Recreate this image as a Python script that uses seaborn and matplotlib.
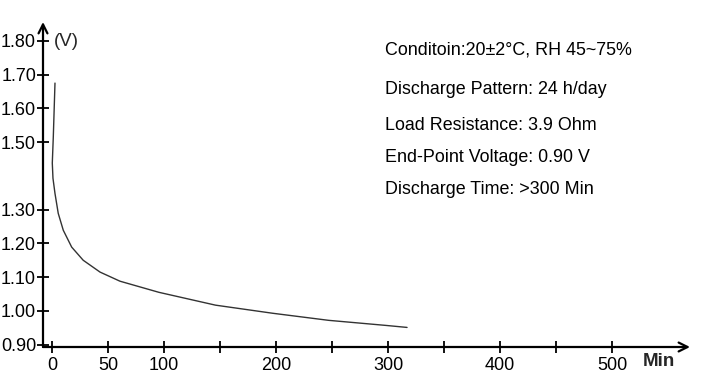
import matplotlib
matplotlib.use("Agg")
import matplotlib.pyplot as plt
import seaborn as sns
import pandas as pd

# ---- data ----
time_min = [2.7, 1.2, 0.3, 0.9, 2.7, 5.6, 10.1, 17.6, 27.9, 42.9, 60.7, 78.6, 95.5,
            146, 197, 247, 298, 317]
voltage = [1.675, 1.516, 1.438, 1.393, 1.348, 1.289, 1.239, 1.189, 1.150, 1.115, 1.088,
           1.071, 1.055, 1.017, 0.993, 0.972, 0.957, 0.951]
y_ticks = [0.90, 1.00, 1.10, 1.20, 1.30, 1.50, 1.60, 1.70, 1.80]
y_tick_labels = ["0.90", "1.00", "1.10", "1.20", "1.30", "1.50", "1.60", "1.70", "1.80"]
x_ticks = [0, 50, 100, 150, 200, 250, 300, 350, 400, 450, 500]
x_tick_labels = ["0", "50", "100", "", "200", "", "300", "", "400", "", "500"]
notes = ["Conditoin:20\u00b12\u00b0C, RH 45~75%",
         "Discharge Pattern: 24 h/day",
         "Load Resistance: 3.9 Ohm",
         "End-Point Voltage: 0.90 V",
         "Discharge Time: >300 Min"]

df = pd.DataFrame({"t": time_min, "v": voltage})

sns.set_style("white")
plt.rcParams["font.family"] = ["Liberation Sans", "DejaVu Sans"]

W, H = 713, 377
fig = plt.figure(figsize=(W / 100, H / 100), dpi=100)
ax = fig.add_axes([43 / W, (H - 347) / H, (690 - 43) / W, (347 - 22) / H])

sns.lineplot(data=df, x="t", y="v", ax=ax, sort=False, estimator=None,
             color="#333333", linewidth=1.0)

ax.set_xlim(-8.0, 569.6)
ax.set_ylim(0.893, 1.856)
for s in ax.spines.values():
    s.set_visible(False)

# axes with arrows
ax.annotate("", xy=(1, 0), xytext=(0, 0), xycoords="axes fraction",
            arrowprops=dict(arrowstyle="->", lw=1.6, color="black", mutation_scale=16,
                            shrinkA=0, shrinkB=0))
ax.annotate("", xy=(0, 1), xytext=(0, 0), xycoords="axes fraction",
            arrowprops=dict(arrowstyle="->", lw=1.6, color="black", mutation_scale=16,
                            shrinkA=0, shrinkB=0))

ax.set_yticks(y_ticks)
ax.set_yticklabels(y_tick_labels)
ax.set_xticks(x_ticks)
ax.set_xticklabels(x_tick_labels)
ax.tick_params(axis="both", direction="inout", length=8, width=1.3, colors="black",
               labelsize=13, pad=1)
ax.tick_params(axis="x", bottom=True, pad=3)
ax.tick_params(axis="y", left=True)
ax.set_xlabel("")
ax.set_ylabel("")
ax.grid(False)

fig.text(54 / W, 1 - 41 / H, "(V)", fontsize=13.5, va="center", ha="left")
fig.text(643 / W, 1 - 362 / H, "Min", fontsize=13.5, fontweight="bold", va="center", ha="left")

ys = [50, 90, 125, 157, 190]
for t, y in zip(notes, ys):
    fig.text(385 / W, 1 - y / H, t, fontsize=12.9, va="center", ha="left", color="black")

fig.savefig("out.png", dpi=100)
